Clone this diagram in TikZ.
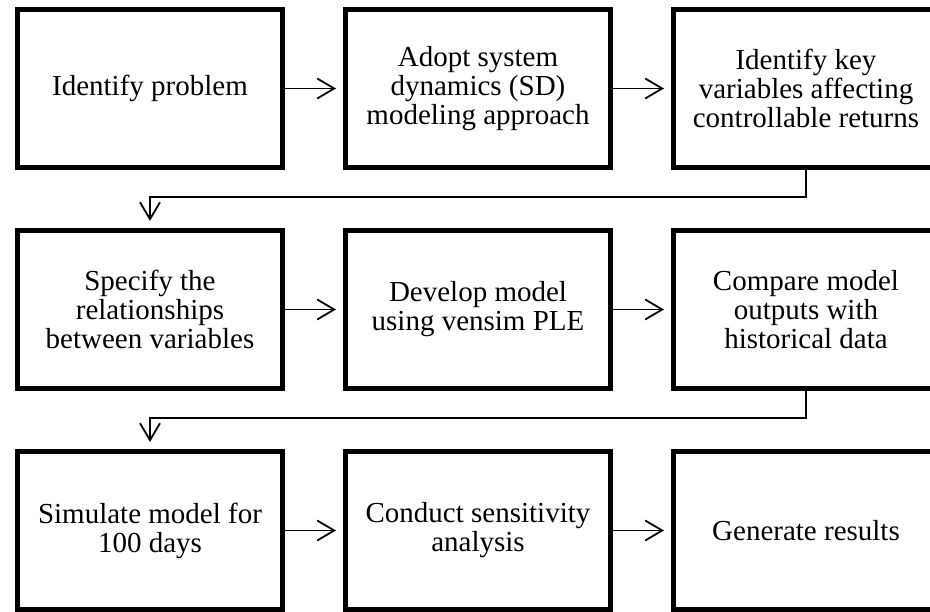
\documentclass[tikz,border=0pt]{standalone}
\usepackage{fontspec}
\setmainfont{Liberation Serif}
\usetikzlibrary{arrows.meta,positioning}
\tikzset{
	stepbox/.style={
		rectangle, draw=black, line width=5pt, fill=white,
		minimum width=265pt, minimum height=158pt, inner sep=4pt,
		align=center, font=\fontsize{29pt}{29pt}\selectfont
	},
	%
	flow/.style={
		-{Straight Barb[length=17pt,width=20pt]}, line width=1.8pt, shorten >=7pt
	}
}

\begin{document}
\begin{tikzpicture}
\clip (0,0) rectangle (930pt,-612pt);

\node(prob)[stepbox] at (150pt,-88.5pt) {Identify problem};
\node(sd)[stepbox, right=58pt of prob] {Adopt system\\dynamics (SD)\\modeling approach};
\node(keyvar)[stepbox, right=58pt of sd] {Identify key\\variables affecting\\controllable returns};

\node(rel)[stepbox, below=58pt of prob] {Specify the\\relationships\\between variables};
\node(vensim)[stepbox, right=58pt of rel] {Develop model\\using vensim PLE};
\node(comp)[stepbox, right=58pt of vensim] {Compare model\\outputs with\\historical data};

\node(sim)[stepbox, below=58pt of rel] {Simulate model for\\100 days};
\node(sens)[stepbox, right=58pt of sim] {Conduct sensitivity\\analysis};
\node(res)[stepbox, right=58pt of sens] {Generate results};

\draw[flow] (prob) -- (sd);
\draw[flow] (sd) -- (keyvar);
\draw[flow] (keyvar.south) -- ++(0,-27pt) -| (rel.north);

\draw[flow] (rel) -- (vensim);
\draw[flow] (vensim) -- (comp);
\draw[flow] (comp.south) -- ++(0,-27pt) -| (sim.north);

\draw[flow] (sim) -- (sens);
\draw[flow] (sens) -- (res);
\end{tikzpicture}
\end{document}
